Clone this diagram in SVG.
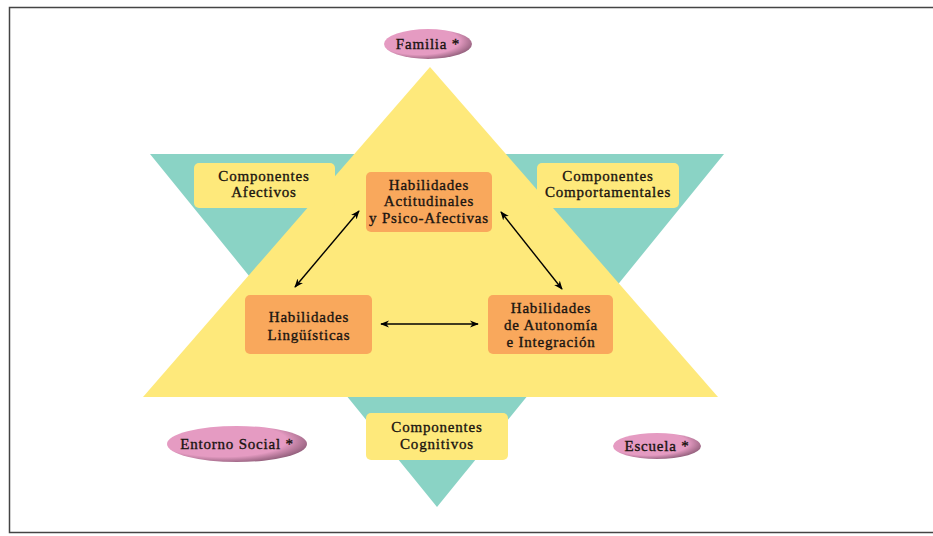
<svg xmlns="http://www.w3.org/2000/svg" width="933" height="536" viewBox="0 0 933 536">
<defs>
<radialGradient id="pink" cx="0.4" cy="0.4" r="0.65">
<stop offset="0.7" stop-color="#E59BC2"/>
<stop offset="1" stop-color="#8E5C78"/>
</radialGradient>
<marker id="ah" viewBox="0 0 10 10" refX="9" refY="5" markerWidth="9" markerHeight="9" markerUnits="userSpaceOnUse" orient="auto-start-reverse">
<path d="M0,1 L10,5 L0,9 L3,5 Z" fill="#000"/>
</marker>
<style>
text{font-family:"Liberation Serif","Times New Roman",serif;font-size:15px;letter-spacing:0.8px;fill:#1a1410;stroke:#1a1410;stroke-width:0.35;text-anchor:middle}
.comp{fill:#FEE97B}
.hab{fill:#F9A85C}
.ell{fill:url(#pink)}
.conn{stroke:#000;stroke-width:1.4;fill:none;marker-start:url(#ah);marker-end:url(#ah)}
</style>
</defs>
<rect width="933" height="536" fill="#fff"/>
<rect x="9.5" y="7.5" width="930" height="525" fill="none" stroke="#444" stroke-width="1.5"/>
<g id="shapes">
<polygon points="150,154 724,154 437,507" fill="#8AD3C5"/>
<polygon points="430,67 718,397 143,397" fill="#FEE97B"/>
</g>
<g id="connectors">
<line class="conn" x1="359" y1="211" x2="295" y2="287"/>
<line class="conn" x1="501" y1="212" x2="562" y2="289"/>
<line class="conn" x1="381" y1="324" x2="478" y2="324"/>
</g>
<g id="familia"><ellipse class="ell" cx="428" cy="44" rx="44" ry="15"/><text x="428" y="49">Familia *</text></g>
<g id="entorno"><ellipse class="ell" cx="237" cy="444" rx="70" ry="18"/><text x="237" y="449">Entorno Social *</text></g>
<g id="escuela"><ellipse class="ell" cx="657" cy="446" rx="44" ry="13"/><text x="657" y="451">Escuela *</text></g>
<g id="afectivos"><rect class="comp" x="194" y="163" width="141" height="45" rx="5"/><text x="264" y="181">Componentes</text><text x="264" y="197">Afectivos</text></g>
<g id="comportamentales"><rect class="comp" x="537" y="163" width="142" height="45" rx="5"/><text x="608" y="181">Componentes</text><text x="608" y="197">Comportamentales</text></g>
<g id="cognitivos"><rect class="comp" x="366" y="413" width="142" height="47" rx="5"/><text x="437" y="432">Componentes</text><text x="437" y="449">Cognitivos</text></g>
<g id="actitudinales"><rect class="hab" x="366" y="172" width="126" height="60" rx="5"/><text x="429" y="190">Habilidades</text><text x="429" y="206">Actitudinales</text><text x="429" y="223">y Psico-Afectivas</text></g>
<g id="linguisticas"><rect class="hab" x="245" y="295" width="127" height="59" rx="5"/><text x="309" y="322">Habilidades</text><text x="309" y="340">Lingüísticas</text></g>
<g id="autonomia"><rect class="hab" x="488" y="295" width="125" height="59" rx="5"/><text x="551" y="313">Habilidades</text><text x="551" y="330">de Autonomía</text><text x="551" y="347">e Integración</text></g>
</svg>
